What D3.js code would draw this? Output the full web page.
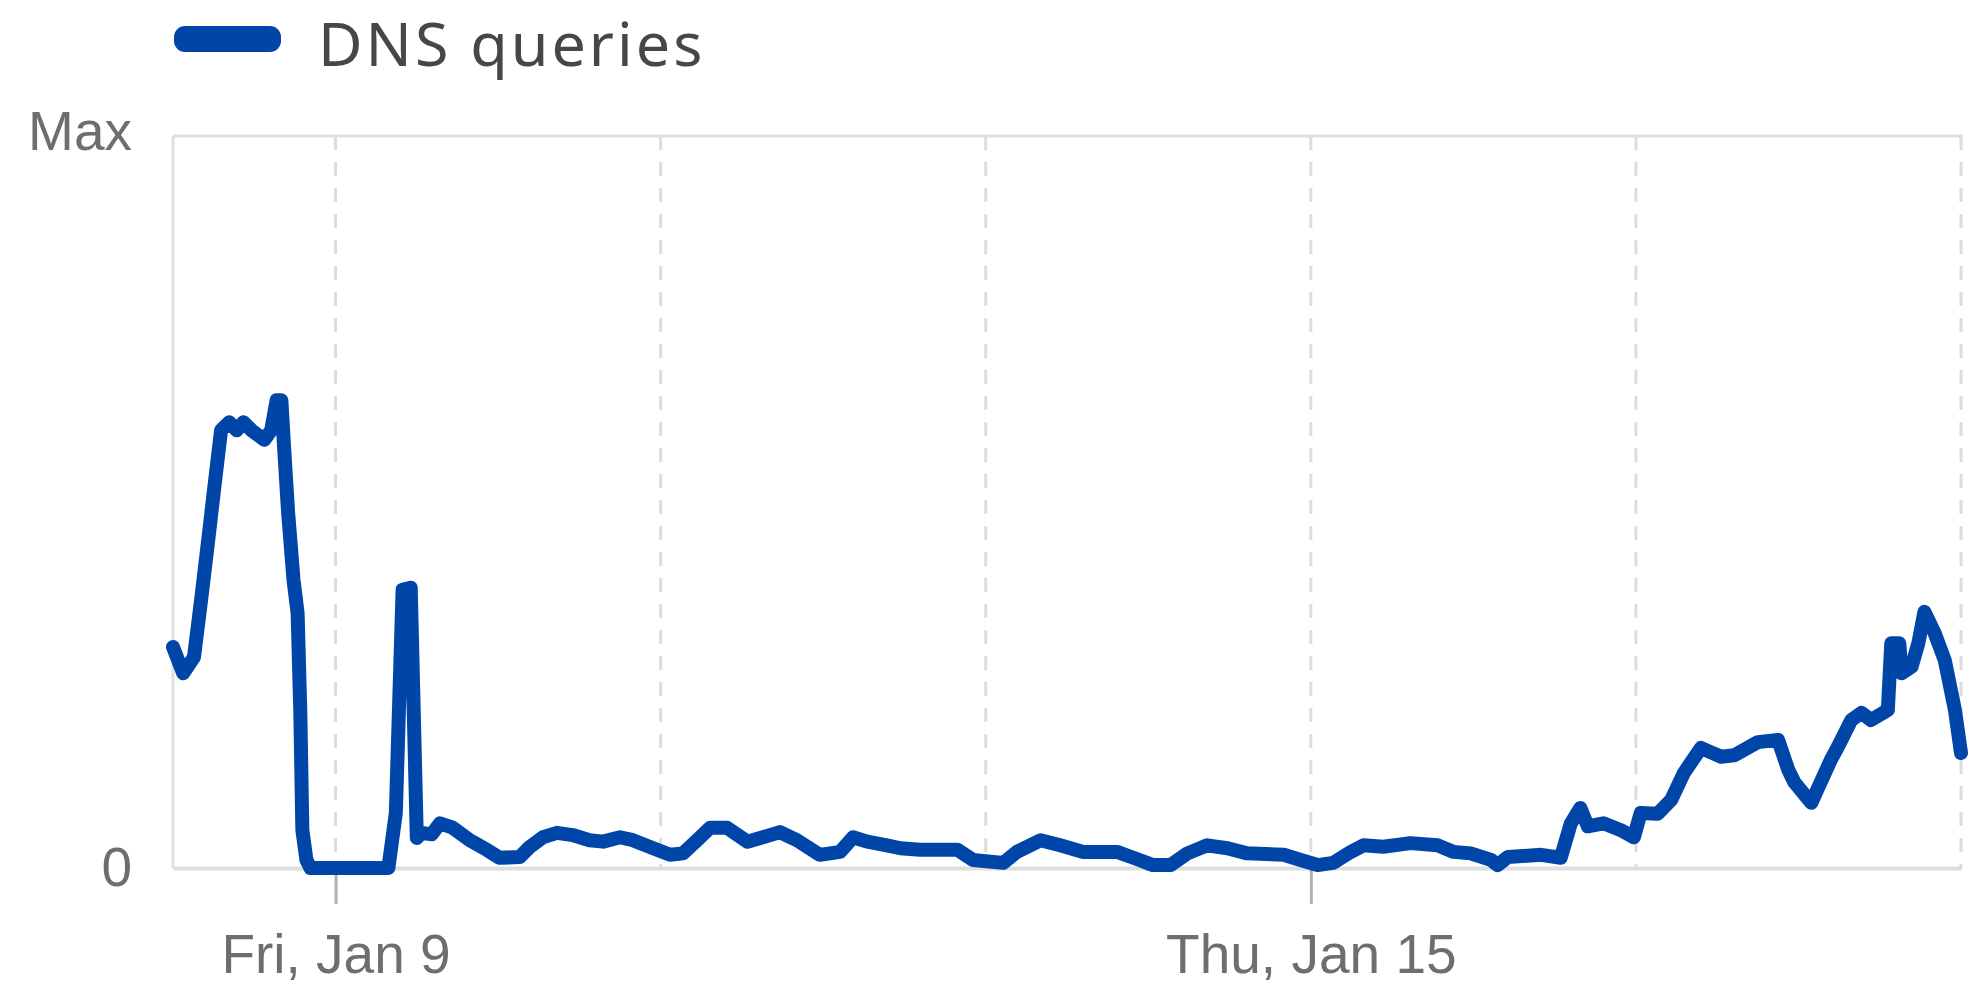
<!DOCTYPE html>
<html>
<head>
<meta charset="utf-8">
<script src="https://cdn.jsdelivr.net/npm/d3@7"></script>
<style>
  html, body { margin: 0; padding: 0; background: #fff; }
  svg { display: block; }
</style>
</head>
<body>
<svg id="chart" width="1971" height="988"></svg>
<script>
// ---- data ----
const seriesName = "DNS queries";
const startDate = new Date(2015, 0, 8, 0, 0);   // Thu, Jan 8
const endDate = new Date(2015, 0, 19, 0, 0);
// hours since start
const hours = [0, 1.5, 3.1, 4.2, 5.2, 6.1, 7.1, 8.3, 9.4, 10.4, 11.6, 13.5, 14.5, 15.3, 16.0, 16.4, 17.0, 17.8, 18.4, 18.8,
  19.1, 19.7, 20.3, 21.9, 26.8, 31.8, 32.9, 33.9, 35.1, 36.0, 36.7, 38.2, 39.4, 41.3, 43.8, 46.3, 48.2, 51.2, 52.7, 54.6,
  56.7, 59.0, 61.5, 63.5, 66.0, 67.9, 70.9, 73.4, 75.3, 77.4, 79.3, 81.8, 84.8, 87.1, 89.6, 92.1, 95.5, 98.5, 100.4, 102.5,
  105.4, 107.4, 110.3, 115.8, 118.1, 122.6, 124.6, 128.1, 131.0, 134.4, 139.4, 141.8, 144.7, 147.3, 149.8, 152.7, 155.7, 158.6, 164.0, 166.5,
  169.0, 171.3, 173.9, 175.8, 178.7, 182.7, 186.7, 189.1, 191.6, 194.6, 195.6, 197.1, 202.0, 204.9, 206.4, 207.8, 208.9, 211.2, 213.7, 215.7,
  216.7, 219.2, 221.2, 223.1, 225.6, 227.1, 228.6, 230.5, 234.0, 237.0, 238.5, 239.4, 241.9, 244.8, 245.8, 247.8, 249.3, 250.7, 253.2, 253.7,
  254.9, 255.2, 256.7, 257.7, 258.6, 260.1, 261.6, 263.1, 264.0];
// percent of max
const values = [30.2, 26.6, 28.8, 37.0, 44.8, 52.0, 59.8, 60.9, 59.8, 60.9, 59.8, 58.5, 59.8, 63.9, 63.9, 57.5, 48.5, 39.3, 34.8, 21.2,
  5.2, 1.1, 0, 0, 0, 0, 7.5, 38.0, 38.3, 4.1, 4.8, 4.6, 6.1, 5.5, 3.8, 2.5, 1.4, 1.5, 2.9, 4.2,
  4.8, 4.5, 3.8, 3.6, 4.2, 3.8, 2.7, 1.8, 2.0, 3.8, 5.5, 5.5, 3.6, 4.2, 4.9, 3.8, 1.8, 2.2, 4.2, 3.6,
  3.1, 2.7, 2.5, 2.5, 1.1, 0.7, 2.2, 3.8, 3.1, 2.2, 2.2, 1.4, 0.4, 0.4, 2.0, 3.1, 2.7, 2.0, 1.8, 1.1,
  0.4, 0.7, 2.2, 3.1, 2.9, 3.4, 3.1, 2.2, 2.0, 1.1, 0.4, 1.5, 1.8, 1.4, 6.1, 8.2, 5.7, 6.1, 5.2, 4.2,
  7.5, 7.4, 9.3, 13.0, 16.4, 15.8, 15.2, 15.4, 17.2, 17.5, 13.4, 11.7, 8.9, 14.8, 16.5, 20.2, 21.2, 20.2, 21.6, 30.7,
  30.7, 26.6, 27.5, 30.7, 35.0, 32.1, 28.4, 21.6, 15.7];
const yTickValues = [0, 100];
const yTickLabels = ["0", "Max"];
const xLabelDates = [new Date(2015, 0, 9), new Date(2015, 0, 15)];
const gridDates = [new Date(2015, 0, 9), new Date(2015, 0, 11), new Date(2015, 0, 13), new Date(2015, 0, 15), new Date(2015, 0, 17), new Date(2015, 0, 19)];

const data = hours.map((h, i) => ({ t: new Date(startDate.getTime() + h * 3600e3), v: values[i] }));

// ---- layout ----
const plotLeft = 173, plotRight = 1961, plotTop = 136, plotBottom = 868;
const svg = d3.select("#chart");
const x = d3.scaleTime().domain([startDate, endDate]).range([plotLeft, plotRight]);
const y = d3.scaleLinear().domain([0, 100]).range([plotBottom, plotTop]);

const lineColor = "#0046a8";
const textGray = "#6e6e6e";

// grid lines (dashed)
svg.append("g").selectAll("line").data(gridDates).join("line")
  .attr("x1", d => x(d)).attr("x2", d => x(d))
  .attr("y1", plotTop).attr("y2", plotBottom)
  .attr("stroke", "#dcdcdc").attr("stroke-width", 3)
  .attr("stroke-dasharray", "14,12");

// frame: top and left
svg.append("line").attr("x1", plotLeft).attr("x2", plotRight + 2).attr("y1", plotTop).attr("y2", plotTop)
  .attr("stroke", "#e0e0e0").attr("stroke-width", 3);
svg.append("line").attr("x1", plotLeft).attr("x2", plotLeft).attr("y1", plotTop).attr("y2", plotBottom)
  .attr("stroke", "#e0e0e0").attr("stroke-width", 3);

// x axis
const xAxis = d3.axisBottom(x).tickValues(xLabelDates)
  .tickFormat(d3.timeFormat("%a, %b %-d")).tickSize(36).tickSizeOuter(0).tickPadding(30);
const gx = svg.append("g").attr("transform", `translate(0,${plotBottom})`).call(xAxis);
gx.select(".domain").attr("stroke", "#dedede").attr("stroke-width", 4);
gx.selectAll(".tick line").attr("stroke", "#b0b0b0").attr("stroke-width", 3);
gx.selectAll(".tick text").attr("fill", textGray)
  .style("font-family", "'Liberation Sans', Arial, sans-serif").style("font-size", "55px");

// y labels
const yAxis = d3.axisLeft(y).tickValues(yTickValues).tickFormat((d, i) => yTickLabels[i]).tickSize(0).tickPadding(41);
const gy = svg.append("g").attr("transform", `translate(${plotLeft},0)`).call(yAxis);
gy.select(".domain").remove();
gy.selectAll(".tick text").attr("fill", textGray)
  .style("font-family", "'Liberation Sans', Arial, sans-serif").style("font-size", "55px")
  .attr("dy", "0.32em");
gy.selectAll(".tick").filter(d => d === 100).select("text").attr("dy", "0.25em");

// series line
const line = d3.line().x(d => x(d.t)).y(d => y(d.v)).curve(d3.curveLinear);
svg.append("path").datum(data)
  .attr("d", line)
  .attr("fill", "none")
  .attr("stroke", lineColor)
  .attr("stroke-width", 14)
  .attr("stroke-linejoin", "round")
  .attr("stroke-linecap", "round");

// legend
const lg = svg.append("g");
lg.append("rect").attr("x", 174).attr("y", 26).attr("width", 107).attr("height", 26)
  .attr("rx", 11).attr("fill", lineColor);
lg.append("text").attr("x", 318).attr("y", 66).text(seriesName)
  .attr("fill", "#474747")
  .style("font-family", "'Noto Sans', 'Open Sans', sans-serif").style("font-size", "61px")
  .style("letter-spacing", "3px");
</script>
</body>
</html>
